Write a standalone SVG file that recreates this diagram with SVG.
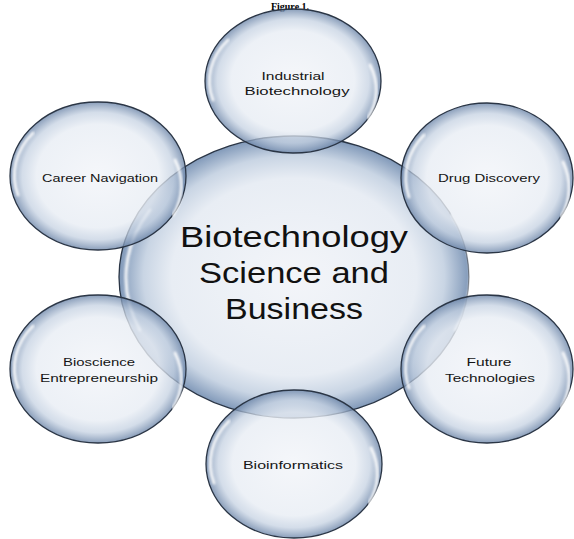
<svg xmlns="http://www.w3.org/2000/svg" width="574" height="539" viewBox="0 0 574 539">
  <defs>
    <radialGradient id="bubble" cx="50%" cy="50%" r="50%">
      <stop offset="0%" stop-color="#f3f5f9"/>
      <stop offset="70%" stop-color="#e8edf4"/>
      <stop offset="86%" stop-color="#c9d5e4"/>
      <stop offset="100%" stop-color="#8199b9"/>
    </radialGradient>
    <radialGradient id="bubbleGlass" cx="50%" cy="50%" r="50%">
      <stop offset="0%" stop-color="#f3f5f9" stop-opacity="0.85"/>
      <stop offset="70%" stop-color="#e8edf4" stop-opacity="0.8"/>
      <stop offset="86%" stop-color="#c3d0e1" stop-opacity="0.72"/>
      <stop offset="100%" stop-color="#6d86a9" stop-opacity="0.8"/>
    </radialGradient>
    <filter id="soft" x="-10%" y="-10%" width="120%" height="120%">
      <feGaussianBlur stdDeviation="1.2"/>
    </filter>
  </defs>
  <style>
    .rim { stroke: #2a3545; stroke-width: 1.3; }
    .shine { fill: none; stroke: #ffffff; stroke-width: 3; stroke-linecap: round; opacity: 0.85; filter: url(#soft); }
    .lbl { font-family: "Liberation Sans", Arial, sans-serif; font-size: 11px; fill: #151515; text-anchor: middle; }
    .big { font-family: "Liberation Sans", Arial, sans-serif; font-size: 30px; fill: #111111; text-anchor: middle; }
  </style>

  <!-- caption at the top edge -->
  <text x="290" y="9.5" font-family="'Liberation Serif', 'Times New Roman', serif" font-size="10" font-weight="bold" text-anchor="middle" fill="#000">Figure 1.</text>

  <!-- central hub -->
  <g id="hub">
    <ellipse cx="294" cy="277" rx="175" ry="141" fill="url(#bubble)" class="rim"/>
    <path class="shine" d="M 140 330 A 165 130 0 0 1 150 210"/>
    <path class="shine" d="M 452 215 A 165 130 0 0 1 455 330"/>
    <text class="big" x="294" y="247" textLength="228" lengthAdjust="spacingAndGlyphs">Biotechnology</text>
    <text class="big" x="294" y="283" textLength="190" lengthAdjust="spacingAndGlyphs">Science and</text>
    <text class="big" x="294" y="319" textLength="138" lengthAdjust="spacingAndGlyphs">Business</text>
  </g>

  <!-- satellite topics -->
  <g id="industrial">
    <ellipse cx="293" cy="81" rx="88" ry="72" fill="url(#bubbleGlass)" class="rim"/>
    <path class="shine" d="M 213 100 A 80 64 0 0 1 228 40"/>
    <path class="shine" d="M 370 65 A 80 64 0 0 1 368 118"/>
    <text class="lbl" x="293" y="80" textLength="63" lengthAdjust="spacingAndGlyphs">Industrial</text>
    <text class="lbl" x="297" y="95" textLength="105" lengthAdjust="spacingAndGlyphs">Biotechnology</text>
  </g>

  <g id="career">
    <ellipse cx="98" cy="176" rx="88" ry="74" fill="url(#bubbleGlass)" class="rim"/>
    <path class="shine" d="M 18 195 A 80 66 0 0 1 33 133"/>
    <path class="shine" d="M 175 160 A 80 66 0 0 1 173 215"/>
    <text class="lbl" x="100" y="182" textLength="116" lengthAdjust="spacingAndGlyphs">Career Navigation</text>
  </g>

  <g id="drug">
    <ellipse cx="487" cy="178" rx="86" ry="75" fill="url(#bubbleGlass)" class="rim"/>
    <path class="shine" d="M 409 197 A 78 67 0 0 1 424 135"/>
    <path class="shine" d="M 563 162 A 78 67 0 0 1 561 217"/>
    <text class="lbl" x="489" y="182" textLength="102" lengthAdjust="spacingAndGlyphs">Drug Discovery</text>
  </g>

  <g id="bioscience">
    <ellipse cx="98" cy="369" rx="88" ry="74" fill="url(#bubbleGlass)" class="rim"/>
    <path class="shine" d="M 18 388 A 80 66 0 0 1 33 326"/>
    <path class="shine" d="M 175 353 A 80 66 0 0 1 173 408"/>
    <text class="lbl" x="99" y="366" textLength="72" lengthAdjust="spacingAndGlyphs">Bioscience</text>
    <text class="lbl" x="99" y="382" textLength="118" lengthAdjust="spacingAndGlyphs">Entrepreneurship</text>
  </g>

  <g id="future">
    <ellipse cx="487" cy="369" rx="86" ry="74" fill="url(#bubbleGlass)" class="rim"/>
    <path class="shine" d="M 409 388 A 78 66 0 0 1 424 326"/>
    <path class="shine" d="M 563 353 A 78 66 0 0 1 561 408"/>
    <text class="lbl" x="489" y="366" textLength="45" lengthAdjust="spacingAndGlyphs">Future</text>
    <text class="lbl" x="490" y="382" textLength="90" lengthAdjust="spacingAndGlyphs">Technologies</text>
  </g>

  <g id="bioinformatics">
    <ellipse cx="294" cy="464" rx="88" ry="74" fill="url(#bubbleGlass)" class="rim"/>
    <path class="shine" d="M 214 483 A 80 66 0 0 1 229 421"/>
    <path class="shine" d="M 371 448 A 80 66 0 0 1 369 503"/>
    <text class="lbl" x="293" y="469" textLength="100" lengthAdjust="spacingAndGlyphs">Bioinformatics</text>
  </g>

  <!-- the topics touch the hub directly; no separate connector lines -->
  <g id="connectors"/>
</svg>
